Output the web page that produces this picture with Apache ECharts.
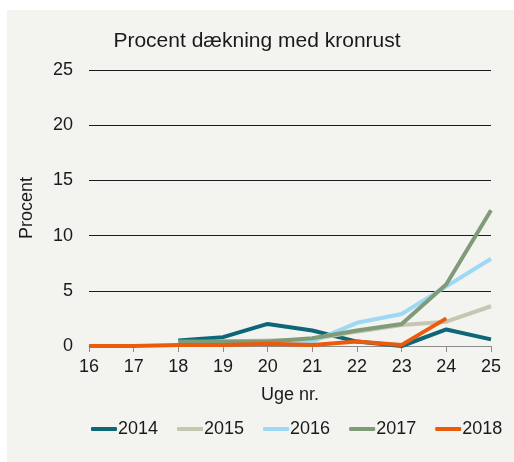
<!DOCTYPE html>
<html>
<head>
<meta charset="utf-8">
<script src="https://cdn.jsdelivr.net/npm/echarts@6/dist/echarts.min.js"></script>
<style>
  html, body { margin: 0; padding: 0; background: #fff; }
  #bg { position: absolute; left: 7px; top: 10px; width: 507px; height: 452px; background: #f3f3ef; }
  #chart { position: absolute; left: 0; top: 0; width: 514px; height: 462px; }
</style>
</head>
<body>
<div id="bg"></div>
<div id="chart"></div>
<script>
// uge nr.
const weeks = ['16', '17', '18', '19', '20', '21', '22', '23', '24', '25']

// procent dækning pr. år (aflæst)
const y2014 = [null, null, 0.5, 0.8, 2.0, 1.4, 0.4, 0.0, 1.5, 0.6]
const y2015 = [null, null, 0.3, 0.4, 0.5, 0.6, 1.3, 1.9, 2.2, 3.6]
const y2016 = [null, null, 0.3, 0.3, 0.3, 0.4, 2.1, 2.9, 5.4, 7.9]
const y2017 = [null, null, 0.4, 0.4, 0.4, 0.7, 1.4, 2.0, 5.6, 12.3]
const y2018 = [0, 0, 0.1, 0.1, 0.2, 0.1, 0.4, 0.1, 2.5, null]

const years = ['2014', '2015', '2016', '2017', '2018']
const colors = ['#0e6777', '#c6c6b2', '#9dd8f4', '#7f9b78', '#ea5b0c']
const values = [y2014, y2015, y2016, y2017, y2018]

const font = 'Liberation Sans, Arial, sans-serif'
const myChart = echarts.init(document.getElementById('chart'))

myChart.setOption({
  animation: false,
  backgroundColor: 'transparent',
  textStyle: { fontFamily: font },
  title: {
    text: 'Procent dækning med kronrust',
    left: 'center',
    top: 26,
    textStyle: { fontSize: 21, fontWeight: 'normal', color: '#1a1a1a', fontFamily: font }
  },
  legend: {
    data: years.map((y) => ({ name: y, icon: 'roundRect' })),
    top: 420,
    left: 91,
    padding: 0,
    itemWidth: 26,
    itemHeight: 4,
    itemGap: 19,
    textStyle: { fontSize: 18, color: '#1a1a1a', padding: [0, 0, 0, -4] }
  },
  grid: { left: 89, right: 23, top: 70, bottom: 116 },
  xAxis: {
    type: 'category',
    data: weeks,
    boundaryGap: false,
    name: 'Uge nr.',
    nameLocation: 'middle',
    nameGap: 40,
    nameTextStyle: { fontSize: 18, color: '#1a1a1a' },
    axisLine: { lineStyle: { color: '#8c8c8c', width: 1 } },
    axisTick: { show: true, alignWithLabel: true, length: 6, lineStyle: { color: '#8c8c8c' } },
    axisLabel: { fontSize: 18, color: '#1a1a1a', margin: 12 },
    splitLine: { show: false }
  },
  yAxis: {
    type: 'value',
    min: 0,
    max: 25,
    interval: 5,
    name: 'Procent',
    nameLocation: 'middle',
    nameGap: 53,
    nameRotate: 90,
    nameTextStyle: { fontSize: 18, color: '#1a1a1a' },
    axisLine: { show: false },
    axisTick: { show: false },
    axisLabel: { fontSize: 18, color: '#1a1a1a', margin: 16 },
    splitLine: { lineStyle: { color: '#1a1a1a', width: 1.2 } }
  },
  series: years.map((y, i) => ({
    name: y,
    type: 'line',
    data: values[i],
    symbol: 'none',
    connectNulls: false,
    z: 2 + i,
    lineStyle: { color: colors[i], width: 4 },
    itemStyle: { color: colors[i] }
  }))
})
</script>
</body>
</html>
